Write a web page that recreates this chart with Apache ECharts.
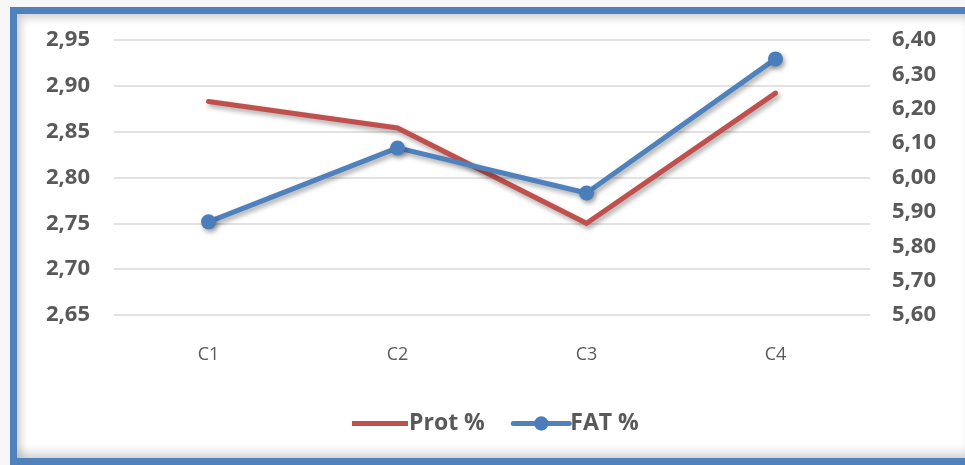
<!DOCTYPE html>
<html>
<head>
<meta charset="utf-8">
<script src="https://cdn.jsdelivr.net/npm/echarts@6/dist/echarts.min.js"></script>
<style>
  html, body { margin: 0; padding: 0; background: #f7f7f7; width: 965px; height: 465px; overflow: hidden; }
  #frame {
    position: absolute; left: 10px; top: 7px; width: 970px; height: 458px;
    box-sizing: border-box; border: 7px solid #4f81bd; background: #ffffff;
    box-shadow: inset 4px 4px 8px rgba(0,0,0,0.18), inset -4px -6px 10px rgba(0,0,0,0.15);
  }
  #chart { position: absolute; left: 0; top: 0; width: 965px; height: 465px; }
</style>
</head>
<body>
<div id="frame"></div>
<div id="chart"></div>
<script>
// Milk composition per group
const categories = ['C1', 'C2', 'C3', 'C4'];
const protValues = [2.883, 2.854, 2.750, 2.892];
const fatValues = [5.871, 6.086, 5.955, 6.345];

const fmt = v => v.toFixed(2).replace('.', ',');
const labelFont = { fontFamily: 'Open Sans', fontWeight: 'bold', fontSize: 22, color: '#595959' };

const chart = echarts.init(document.getElementById('chart'));
chart.setOption({
  animation: false,
  grid: { left: 114, right: 95, top: 40, bottom: 150 },
  legend: {
    bottom: 25, left: 347, itemWidth: 56, itemHeight: 18, itemGap: 26,
    textStyle: { fontFamily: 'Open Sans', fontWeight: 'bold', fontSize: 23, color: '#595959', padding: [0, 0, 0, -4] },
    lineStyle: { width: 5 },
    data: [
      { name: 'Prot %', icon: 'path://M0,6.5 L56,6.5 L56,11.5 L0,11.5 Z' },
      { name: 'FAT %' }
    ]
  },
  xAxis: {
    type: 'category', data: categories, boundaryGap: true,
    axisLine: { show: false }, axisTick: { show: false },
    axisLabel: { margin: 31, fontFamily: 'Open Sans', fontSize: 18, color: '#595959' }
  },
  yAxis: [
    {
      type: 'value', min: 2.65, max: 2.95, interval: 0.05,
      axisLine: { show: false }, axisTick: { show: false },
      axisLabel: Object.assign({ margin: 24, formatter: fmt }, labelFont),
      splitLine: { lineStyle: { color: '#d9d9d9', width: 1.5 } }
    },
    {
      type: 'value', min: 5.6, max: 6.4, interval: 0.1,
      axisLine: { show: false }, axisTick: { show: false },
      axisLabel: Object.assign({ margin: 22, formatter: fmt }, labelFont),
      splitLine: { show: false }
    }
  ],
  series: [
    {
      name: 'Prot %', type: 'line', yAxisIndex: 0, data: protValues,
      symbol: 'none', color: '#c0504d',
      lineStyle: { width: 5, color: '#c0504d', cap: 'round', join: 'miter',
        shadowColor: 'rgba(0,0,0,0.35)', shadowBlur: 5, shadowOffsetX: 2, shadowOffsetY: 3 }
    },
    {
      name: 'FAT %', type: 'line', yAxisIndex: 1, data: fatValues,
      symbol: 'circle', symbolSize: 15, color: '#4f81bd',
      itemStyle: { color: '#4a7ebb', shadowColor: 'rgba(0,0,0,0.35)', shadowBlur: 5, shadowOffsetX: 2, shadowOffsetY: 3 },
      lineStyle: { width: 5, color: '#4f81bd', cap: 'round',
        shadowColor: 'rgba(0,0,0,0.35)', shadowBlur: 5, shadowOffsetX: 2, shadowOffsetY: 3 }
    }
  ]
});
</script>
</body>
</html>
